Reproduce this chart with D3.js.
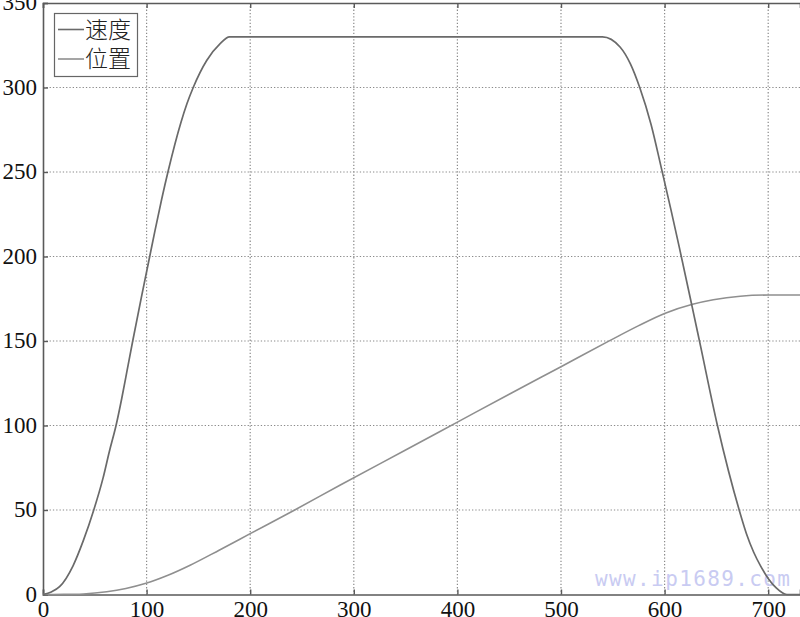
<!DOCTYPE html>
<html>
<head>
<meta charset="utf-8">
<script src="https://cdn.jsdelivr.net/npm/d3@7/dist/d3.min.js"></script>
<style>
  html, body { margin: 0; padding: 0; background: #fff; }
  svg { display: block; }
</style>
</head>
<body>
<svg id="chart" width="800" height="617"></svg>
<script>
// ---- data ----
const xTicks = [0, 100, 200, 300, 400, 500, 600, 700];
const yTicks = [0, 50, 100, 150, 200, 250, 300, 350];
const seriesNames = ["速度", "位置"];

const velocityX = [0, 8, 16, 29, 39, 49, 58, 64, 70.5, 76, 81, 86.6, 95, 103, 108, 114.6, 121, 133, 139, 145, 158, 171, 180, 200,
                   540, 557, 567, 576, 587, 597, 606, 614, 626, 634, 651, 672, 679, 686, 693, 700, 708, 718, 731];
const velocityY = [0, 1.5, 4.6, 17, 32, 50, 69, 84.5, 100, 116, 132, 150, 176, 200, 215, 234, 251, 279, 290.5, 300, 316, 326, 330, 330,
                   330, 324, 314, 300, 278, 252, 228, 206, 172, 149, 100, 50, 36, 25, 16.5, 9.5, 3.7, 0, 0];

const positionX = [0, 20, 39, 61.5, 80, 99.4, 120, 142, 170, 200, 243, 287, 350, 400, 450, 500, 547, 575, 600, 627, 647, 673, 700, 731];
const positionY = [0, 0.05, 0.32, 1.6, 3.55, 6.6, 11.2, 17.3, 26.2, 36, 50, 64.8, 85.5, 102, 118.5, 134.8, 150.2, 159.1, 166.3, 171.7, 174.4, 176.5, 177.2, 177.2];

const watermark = "www.ip1689.com";

// ---- layout ----
const svg = d3.select("#chart");
const mLeft = 43, mRight = 800, mTop = 3, mBottom = 594.5;
const x = d3.scaleLinear().domain([0, 730.7]).range([mLeft, mRight]);
const y = d3.scaleLinear().domain([0, 350]).range([mBottom, mTop]);

const gridColor = "#8a8a8a";
const axisColor = "#5a5a5a";

// grid
const grid = svg.append("g");
grid.selectAll("line.gx").data(xTicks.filter(d => d > 0)).join("line")
  .attr("x1", d => x(d)).attr("x2", d => x(d))
  .attr("y1", mTop).attr("y2", mBottom)
  .attr("stroke", gridColor).attr("stroke-width", 1.2)
  .attr("stroke-dasharray", "1.3,2");
grid.selectAll("line.gy").data(yTicks.filter(d => d > 0 && d < 350)).join("line")
  .attr("x1", mLeft).attr("x2", mRight)
  .attr("y1", d => y(d)).attr("y2", d => y(d))
  .attr("stroke", gridColor).attr("stroke-width", 1.2)
  .attr("stroke-dasharray", "1.3,2");

// axes
const xAxis = d3.axisBottom(x).tickValues(xTicks).tickSize(-5).tickPadding(9).tickFormat(d3.format("d"));
const yAxis = d3.axisLeft(y).tickValues(yTicks).tickSize(-5).tickPadding(6).tickFormat(d3.format("d"));
const xTop = d3.axisTop(x).tickValues(xTicks).tickSize(-5).tickFormat("");

const gx = svg.append("g").attr("transform", `translate(0,${mBottom})`).call(xAxis);
const gy = svg.append("g").attr("transform", `translate(${mLeft},0)`).call(yAxis);
const gt = svg.append("g").attr("transform", `translate(0,${mTop})`).call(xTop);

[gx, gy, gt].forEach(g => {
  g.select(".domain").attr("stroke", axisColor).attr("stroke-width", 1.6);
  g.selectAll(".tick line").attr("stroke", axisColor).attr("stroke-width", 1.4);
  g.selectAll("text").attr("font-family", "'Liberation Serif', 'Times New Roman', serif")
    .attr("font-size", 23).attr("fill", "#111");
});
gx.selectAll("text").attr("dy", "0.6em");
gy.selectAll("text").attr("dy", "0.3em");

// watermark
svg.append("text")
  .attr("x", 595).attr("y", 586)
  .attr("textLength", 195).attr("lengthAdjust", "spacing")
  .attr("font-family", "'DejaVu Sans Mono', monospace")
  .attr("font-size", 21)
  .attr("fill", "#c9cbf2")
  .text(watermark);

// lines
svg.append("clipPath").attr("id", "clip")
  .append("rect").attr("x", mLeft).attr("y", mTop - 2).attr("width", mRight - mLeft).attr("height", mBottom - mTop + 4);

const line = d3.line().x(d => x(d[0])).y(d => y(d[1])).curve(d3.curveMonotoneX);
const velocity = velocityX.map((v, i) => [v, velocityY[i]]);
const position = positionX.map((v, i) => [v, positionY[i]]);

const colors = ["#6a6a6a", "#8f8f8f"];
svg.append("path").datum(position).attr("d", line)
  .attr("fill", "none").attr("stroke", colors[1]).attr("stroke-width", 1.6)
  .attr("clip-path", "url(#clip)");
svg.append("path").datum(velocity).attr("d", line)
  .attr("fill", "none").attr("stroke", colors[0]).attr("stroke-width", 1.7)
  .attr("clip-path", "url(#clip)");

// legend
const lg = svg.append("g");
lg.append("rect").attr("x", 54.5).attr("y", 13.5).attr("width", 83).attr("height", 63)
  .attr("fill", "#fff").attr("stroke", "#666").attr("stroke-width", 1.2);
seriesNames.forEach((name, i) => {
  const cy = 29.5 + i * 29.5;
  lg.append("line").attr("x1", 58).attr("x2", 84).attr("y1", cy).attr("y2", cy)
    .attr("stroke", colors[i]).attr("stroke-width", 1.6);
  lg.append("text").attr("x", 85).attr("y", cy).attr("dy", "0.36em")
    .attr("font-family", "'Noto Sans CJK SC', sans-serif").attr("font-size", 23)
    .attr("font-weight", 300).attr("fill", "#222")
    .text(name);
});
</script>
</body>
</html>
